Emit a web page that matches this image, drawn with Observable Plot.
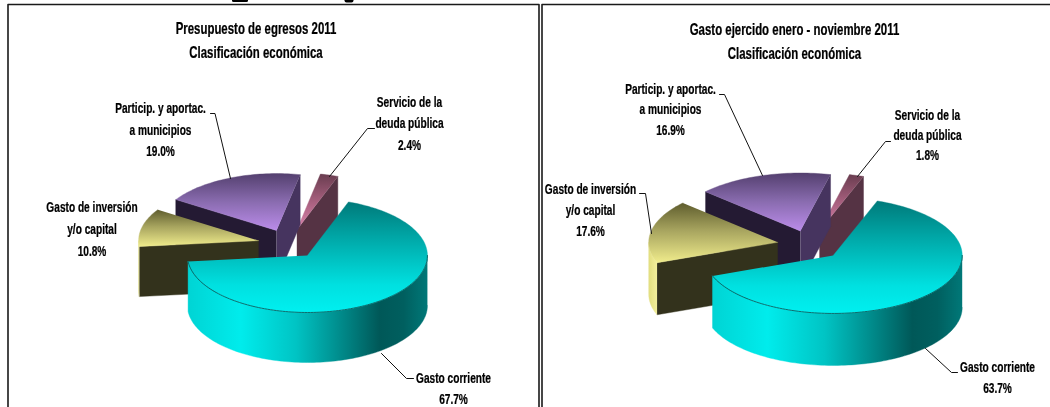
<!DOCTYPE html>
<html>
<head>
<meta charset="utf-8">
<script src="https://cdn.jsdelivr.net/npm/d3@7"></script>
<script src="https://cdn.jsdelivr.net/npm/@observablehq/plot@0.6"></script>
<style>
html,body{margin:0;padding:0;background:#fff;overflow:hidden}
svg{display:block;filter:blur(0.35px)}
</style>
</head>
<body>
<div id="chart"></div>
<script>
const categories = ["Gasto corriente", "Gasto de inversión y/o capital", "Particip. y aportac. a municipios", "Servicio de la deuda pública"];
const presupuesto = [67.7, 10.8, 19.0, 2.4];
const ejercido = [63.7, 17.6, 16.9, 1.8];
const labelLines = [["Gasto corriente"], ["Gasto de inversión", "y/o capital"], ["Particip. y aportac.", "a municipios"], ["Servicio de la", "deuda pública"]];

const rad = Math.PI / 180;
const paints = [
  {top: "url(#tTeal)", wall: "url(#wTeal)", face: "#005a5a", edge: "#0b5f5f"},
  {top: "url(#tYellow)", wall: "url(#wYellow)", face: "#33321c", edge: "#77764a"},
  {top: "url(#tPurple)", wall: "#46345f", face: "#241a33", edge: "#6a5a86"},
  {top: "url(#tPink)", wall: "#553344", face: "#553344", edge: "#8a6a7a"}
];

function pieShapes(values, {cx, cy, rx, ry, depth, explode, start}) {
  const arcs = d3.pie().sort(null).startAngle(start * rad).endAngle((start + 360) * rad)(values);
  const order = [3, 2, 1, 0];
  const shapes = [];
  for (const i of order) {
    const a = arcs[i], mid = (a.startAngle + a.endAngle) / 2;
    const ax = cx + Math.sin(mid) * rx * explode, ay = cy - Math.cos(mid) * ry * explode;
    const pt = (t, d = 0) => ({x: ax + Math.sin(t) * rx, y: ay - Math.cos(t) * ry + d});
    const sweep = (t0, t1, d = 0) => {
      const n = Math.max(2, Math.ceil((t1 - t0) / (1.5 * rad)));
      return d3.range(n + 1).map(k => pt(t0 + (t1 - t0) * k / n, d));
    };
    const apex = {x: ax, y: ay}, apexLow = {x: ax, y: ay + depth};
    const p = paints[i];
    if (Math.sin(a.startAngle) < 0) {
      shapes.push({pts: [apex, pt(a.startAngle), pt(a.startAngle, depth), apexLow], fill: p.face});
    }
    if (Math.sin(a.endAngle) > 0) {
      shapes.push({pts: [apex, pt(a.endAngle), pt(a.endAngle, depth), apexLow], fill: p.wall});
    }
    const w0 = Math.max(a.startAngle, 90 * rad), w1 = Math.min(a.endAngle, 270 * rad);
    if (w1 > w0) {
      shapes.push({pts: [...sweep(w0, w1), ...sweep(w0, w1, depth).reverse()], fill: p.wall});
    }
    shapes.push({pts: [apex, ...sweep(a.startAngle, a.endAngle)], fill: p.top});
    if (i === 0) shapes.push({pts: sweep(w0, w1), line: p.edge});
  }
  return shapes;
}

const leftPie = pieShapes(presupuesto, {cx: 288, cy: 243.5, rx: 120, ry: 57, depth: 50, explode: 0.256, start: 20});
const rightPie = pieShapes(ejercido, {cx: 809.4, cy: 244.6, rx: 129, ry: 58, depth: 52, explode: 0.254, start: 20});

const pct = v => v.toFixed(1) + "%";
function labelRows(values, centres) {
  return values.flatMap((v, i) => {
    const [x, ys] = centres[i];
    return [...labelLines[i], pct(v)].map((text, k) => ({x, y: ys[k], text}));
  });
}
const titleRows = [
  {x: 255.5, y: 28, text: "Presupuesto de egresos 2011"},
  {x: 255.5, y: 52.5, text: "Clasificación económica"},
  {x: 794, y: 29.5, text: "Gasto ejercido enero - noviembre 2011"},
  {x: 794, y: 53, text: "Clasificación económica"}
];
const textRows = [
  ...labelRows(presupuesto, [
    [453, [378, 399]],
    [91.5, [207, 229, 251]],
    [160, [108, 129.5, 151]],
    [409, [101.5, 123, 144.5]]
  ]),
  ...labelRows(ejercido, [
    [997, [367, 388]],
    [590, [188.5, 209.5, 230.5]],
    [670, [88.5, 109, 129.5]],
    [927, [114.5, 134.5, 155]]
  ])
];

const leaders = [
  [[210, 113], [214.5, 113], [230, 178]],
  [[374, 128], [367, 128], [329, 176]],
  [[413, 378], [406, 378], [381, 353]],
  [[719, 94], [724, 94], [762, 175]],
  [[890, 141], [885, 141], [857, 176]],
  [[639, 193], [645, 193], [651, 233]],
  [[957, 372], [951, 372], [925, 348]]
];

const frame = [
  [[7.5, 407], [7.5, 4], [538.5, 4], [538.5, 407]],
  [[541.5, 407], [541.5, 4], [1050, 4]]
];
const topSlivers = [
  {pts: [[233, 0], [246, 0]], width: 3},
  {pts: [[346, 0], [351, 0]], width: 4}
];

function gradient(defs, id, stops, horizontal) {
  const g = defs.append("linearGradient").attr("id", id)
    .attr("x1", 0).attr("y1", 0).attr("x2", horizontal ? 1 : 0).attr("y2", horizontal ? 0 : 1);
  for (const [o, c] of stops) g.append("stop").attr("offset", o).attr("stop-color", c);
}
function defsMark() {
  const root = d3.create("svg:g");
  const defs = root.append("defs");
  gradient(defs, "tTeal", [[0, "#007a7a"], [0.3, "#00a4a4"], [0.75, "#00e0e0"], [1, "#00f0f0"]]);
  gradient(defs, "wTeal", [[0, "#00d4d4"], [0.22, "#00ecec"], [0.45, "#00c4c4"], [0.66, "#008484"], [0.8, "#005858"], [0.9, "#005f5f"], [1, "#007878"]], true);
  gradient(defs, "tYellow", [[0, "#5f5d2e"], [0.45, "#a6a35e"], [1, "#f0ec8c"]]);
  gradient(defs, "wYellow", [[0, "#e2de80"], [1, "#f2ee9c"]], true);
  gradient(defs, "tPurple", [[0, "#54406f"], [0.5, "#8a6cb0"], [1, "#bb8cea"]]);
  gradient(defs, "tPink", [[0, "#6a3d50"], [0.5, "#a8607f"], [1, "#dc86ae"]]);
  return root.node();
}

const condense = k => (index, scales, values, dims, context, next) => {
  const g = next(index, scales, values, dims, context);
  g.querySelectorAll("text").forEach(t => {
    t.setAttribute("transform", (t.getAttribute("transform") || "") + ` scale(${k},1)`);
  });
  return g;
};

const shapeMarks = [...leftPie, ...rightPie].map(s => s.line
  ? Plot.line(s.pts, {x: "x", y: "y", stroke: s.line, strokeWidth: 0.9})
  : Plot.line(s.pts, {x: "x", y: "y", fill: s.fill, stroke: s.fill, strokeWidth: 0.4}));

const fontFamily = '"Liberation Sans", Arial, sans-serif';
const textStyle = {x: "x", y: "y", text: "text", fontFamily, fontWeight: 700, fill: "#000", stroke: "#000", strokeWidth: 0.25, textAnchor: "middle", lineAnchor: "middle"};
const plot = Plot.plot({
  width: 1050,
  height: 407,
  margin: 0,
  x: {domain: [0, 1050], range: [0, 1050], axis: null},
  y: {domain: [0, 407], range: [0, 407], axis: null},
  marks: [
    defsMark,
    ...topSlivers.map(s => Plot.line(s.pts, {x: d => d[0], y: d => d[1], stroke: "#000", strokeWidth: s.width})),
    ...frame.map(f => Plot.line(f, {x: d => d[0], y: d => d[1], stroke: "#1a1a1a", strokeWidth: 1.6})),
    ...shapeMarks,
    ...leaders.map(l => Plot.line(l, {x: d => d[0], y: d => d[1], stroke: "#111", strokeWidth: 1})),
    Plot.text(titleRows, {...textStyle, fontSize: 16, render: condense(0.715)}),
    Plot.text(textRows, {...textStyle, fontSize: 14.5, render: condense(0.7)})
  ]
});
document.getElementById("chart").append(plot);
</script>
</body>
</html>
